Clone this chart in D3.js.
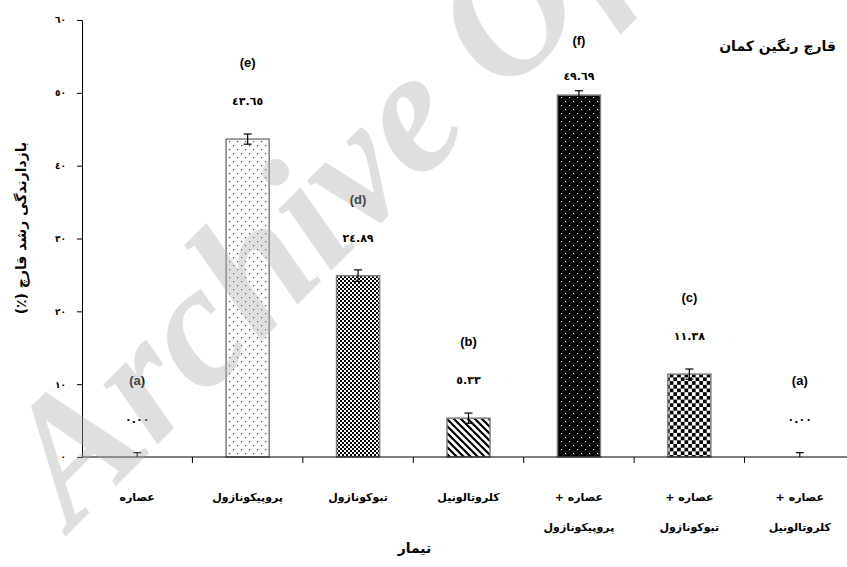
<!DOCTYPE html>
<html>
<head>
<meta charset="utf-8">
<script src="https://cdn.jsdelivr.net/npm/d3@7"></script>
<style>
  body { margin: 0; background: #fff; }
  svg { display: block; }
</style>
</head>
<body>
<svg id="svg"></svg>
<script>
// treatments, each label split in lines
const treatments = [
  ["عصاره"],
  ["پروپیکونازول"],
  ["تبوکونازول"],
  ["کلروتالونیل"],
  ["عصاره +", "پروپیکونازول"],
  ["عصاره +", "تبوکونازول"],
  ["عصاره +", "کلروتالونیل"]
];
const inhibition = [0, 43.65, 24.89, 5.33, 49.69, 11.38, 0];
const stdErr = [0.6, 0.7, 0.8, 0.7, 0.6, 0.7, 0.6];
const groups = ["a", "e", "d", "b", "f", "c", "a"];
const fills = ["none", "dotsLight", "checkFine", "diag", "dotsDark", "checkBig", "none"];
const yTicks = [0, 10, 20, 30, 40, 50, 60];

const title = "قارچ رنگین کمان";
const yTitle = "بازدارندگی رشد قارچ (٪)";
const xTitle = "تیمار";

const faDigits = "٠١٢٣٤٥٦٧٨٩";
const toFa = s => String(s).replace(/[0-9]/g, c => faDigits[+c]);

let layout = {"width": 847,
              "height": 567,
              "marginTop": 20,
              "marginRight": -8,
              "marginBottom": 110,
              "marginLeft": 82};

let svg = d3.select("#svg")
  .attr("width", layout.width)
  .attr("height", layout.height);

let defs = svg.append("defs");

// sparse gray dots on white
let p1 = defs.append("pattern").attr("id", "dotsLight")
  .attr("patternUnits", "userSpaceOnUse").attr("width", 8).attr("height", 8);
p1.append("rect").attr("width", 8).attr("height", 8).attr("fill", "#fff");
p1.append("rect").attr("x", 1).attr("y", 1).attr("width", 1.2).attr("height", 1.2).attr("fill", "#444");
p1.append("rect").attr("x", 5).attr("y", 5).attr("width", 1.2).attr("height", 1.2).attr("fill", "#444");

// fine checker
let p2 = defs.append("pattern").attr("id", "checkFine")
  .attr("patternUnits", "userSpaceOnUse").attr("width", 4).attr("height", 4);
p2.append("rect").attr("width", 4).attr("height", 4).attr("fill", "#fff");
p2.append("rect").attr("width", 2).attr("height", 2).attr("fill", "#000");
p2.append("rect").attr("x", 2).attr("y", 2).attr("width", 2).attr("height", 2).attr("fill", "#000");

// diagonal lines
let p3 = defs.append("pattern").attr("id", "diag")
  .attr("patternUnits", "userSpaceOnUse").attr("width", 7).attr("height", 7);
p3.append("rect").attr("width", 7).attr("height", 7).attr("fill", "#fff");
p3.append("path").attr("d", "M0,0L7,7M-1,6L1,8M6,-1L8,1")
  .attr("stroke", "#000").attr("stroke-width", 2.2);

// white dots on black
let p4 = defs.append("pattern").attr("id", "dotsDark")
  .attr("patternUnits", "userSpaceOnUse").attr("width", 8).attr("height", 8);
p4.append("rect").attr("width", 8).attr("height", 8).attr("fill", "#000");
p4.append("rect").attr("x", 1).attr("y", 1).attr("width", 1.2).attr("height", 1.2).attr("fill", "#fff");
p4.append("rect").attr("x", 5).attr("y", 5).attr("width", 1.2).attr("height", 1.2).attr("fill", "#fff");

// big checker
let p5 = defs.append("pattern").attr("id", "checkBig")
  .attr("patternUnits", "userSpaceOnUse").attr("width", 7.4).attr("height", 7.4);
p5.append("rect").attr("width", 7.4).attr("height", 7.4).attr("fill", "#fff");
p5.append("rect").attr("width", 3.7).attr("height", 3.7).attr("fill", "#000");
p5.append("rect").attr("x", 3.7).attr("y", 3.7).attr("width", 3.7).attr("height", 3.7).attr("fill", "#000");

let idx = d3.range(treatments.length);

let xScale = d3.scaleBand()
  .domain(idx)
  .range([layout.marginLeft, layout.width - layout.marginRight])
  .paddingInner(0.61)
  .paddingOuter(0.305);

let yScale = d3.scaleLinear()
  .domain([0, 60])
  .range([layout.height - layout.marginBottom, layout.marginTop]);

let y0 = yScale(0);
let step = xScale.step();

// bars
svg.append("g").selectAll("rect")
  .data(idx.filter(i => inhibition[i] > 0))
  .join("rect")
  .attr("x", i => xScale(i))
  .attr("y", i => yScale(inhibition[i]))
  .attr("width", xScale.bandwidth())
  .attr("height", i => y0 - yScale(inhibition[i]))
  .attr("fill", i => `url(#${fills[i]})`)
  .attr("stroke", "#808080")
  .attr("stroke-width", 1.5);

// error bars
let eb = svg.append("g").attr("stroke", "#000").attr("stroke-width", 1.2);
idx.forEach(i => {
  let cx = xScale(i) + xScale.bandwidth() / 2;
  let top = yScale(inhibition[i] + stdErr[i]);
  let bot = yScale(Math.max(0, inhibition[i] - stdErr[i]));
  eb.append("line").attr("x1", cx).attr("x2", cx).attr("y1", top).attr("y2", bot);
  eb.append("line").attr("x1", cx - 4).attr("x2", cx + 4).attr("y1", top).attr("y2", top);
  if (inhibition[i] - stdErr[i] > 0)
    eb.append("line").attr("x1", cx - 4).attr("x2", cx + 4).attr("y1", bot).attr("y2", bot);
});

// value and group labels
idx.forEach(i => {
  let cx = xScale(i) + xScale.bandwidth() / 2;
  let yb = yScale(inhibition[i]);
  let tight = yb - 77 < 30;
  let yv = tight ? yb - 20 : yb - 39;
  let yl = tight ? yb - 55 : yb - 77;
  svg.append("text")
    .attr("x", cx).attr("y", yv + 5)
    .attr("text-anchor", "middle")
    .attr("font-family", "DejaVu Sans").attr("font-weight", "bold").attr("font-size", 11)
    .text(toFa(inhibition[i].toFixed(2)));
  svg.append("text")
    .attr("x", cx).attr("y", yl + 5)
    .attr("text-anchor", "middle")
    .attr("font-family", "Liberation Sans").attr("font-weight", "bold").attr("font-size", 13)
    .text(`(${groups[i]})`);
});

// y axis
let yAxis = svg.append("g")
  .attr("transform", `translate(${layout.marginLeft},0)`)
  .call(d3.axisLeft(yScale).tickValues(yTicks).tickSize(5).tickPadding(11).tickFormat(d => toFa(d)));
yAxis.selectAll("text").attr("font-family", "DejaVu Sans").attr("font-weight", "bold").attr("font-size", 9);

// x axis
let xAxis = svg.append("g").attr("transform", `translate(0,${y0})`);
xAxis.append("line")
  .attr("x1", layout.marginLeft).attr("x2", layout.width - layout.marginRight)
  .attr("stroke", "#000");
xAxis.selectAll(".tk")
  .data(idx.slice(1))
  .join("line")
  .attr("class", "tk")
  .attr("x1", i => xScale(i) - step * 0.305).attr("x2", i => xScale(i) - step * 0.305)
  .attr("y1", 0).attr("y2", 6)
  .attr("stroke", "#000");

xAxis.selectAll(".lbl")
  .data(idx)
  .join("text")
  .attr("class", "lbl")
  .attr("text-anchor", "middle")
  .attr("direction", "rtl")
  .attr("font-family", "DejaVu Sans").attr("font-weight", "bold").attr("font-size", 11)
  .each(function(i) {
    let t = d3.select(this);
    treatments[i].forEach((line, k) => {
      t.append("tspan")
        .attr("x", xScale(i) + xScale.bandwidth() / 2)
        .attr("y", 44 + k * 30)
        .text(line);
    });
  });

// titles
svg.append("text")
  .attr("x", 836).attr("y", 51)
  .attr("text-anchor", "end")
  .attr("font-family", "DejaVu Sans").attr("font-weight", "bold").attr("font-size", 14)
  .text(title);

svg.append("text")
  .attr("transform", "translate(26,228) rotate(-90)")
  .attr("text-anchor", "middle")
  .attr("direction", "rtl")
  .attr("font-family", "DejaVu Sans").attr("font-weight", "bold").attr("font-size", 14)
  .text(yTitle);

svg.append("text")
  .attr("x", (layout.marginLeft + 847) / 2 - 50).attr("y", 553)
  .attr("text-anchor", "middle")
  .attr("font-family", "DejaVu Sans").attr("font-weight", "bold").attr("font-size", 14)
  .text(xTitle);

// watermark
svg.append("text")
  .attr("transform", "translate(72,530) rotate(-45)")
  .attr("font-family", "Liberation Serif").attr("font-style", "italic").attr("font-weight", "bold")
  .attr("font-size", 176)
  .attr("fill", "#aaa").attr("fill-opacity", 0.38)
  .text("Archive Of");
</script>
</body>
</html>
